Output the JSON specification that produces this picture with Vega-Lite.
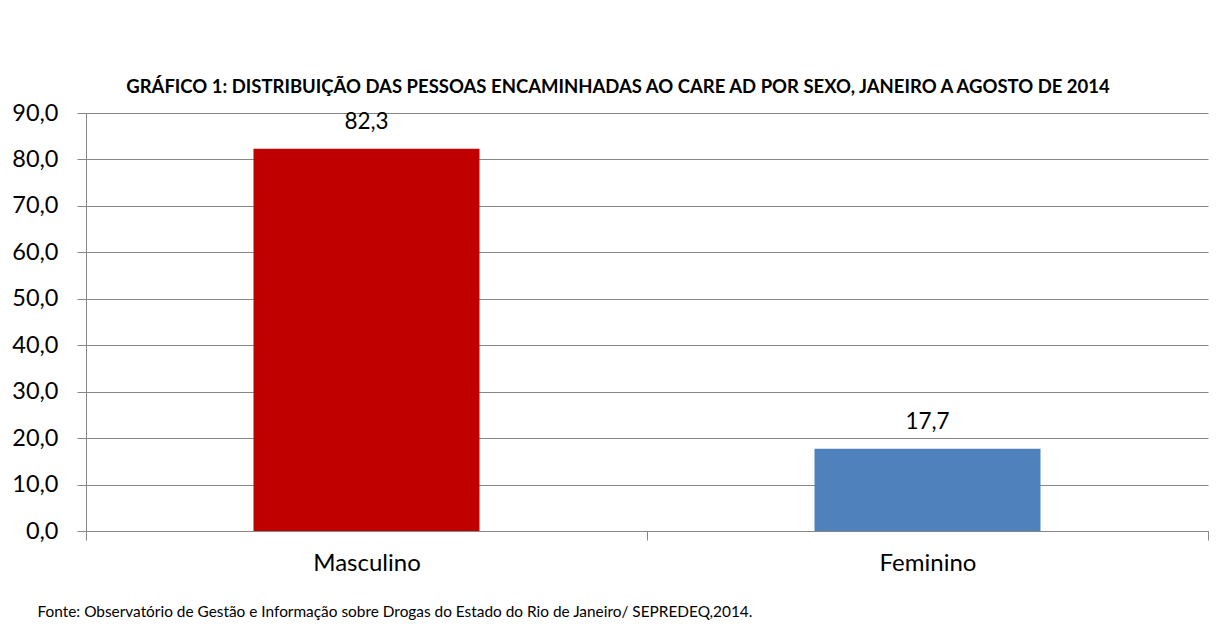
{
  "$schema": "https://vega.github.io/schema/vega-lite/v6.json",
  "width": 1122,
  "height": 418,
  "autosize": {"type": "none"},
  "padding": {"left": 86, "top": 113, "right": 10, "bottom": 104},
  "background": "white",
  "config": {
    "locale": {"number": {"decimal": ",", "thousands": ".", "grouping": [3], "currency": ["R$", ""]}},
    "view": {"stroke": null},
    "font": "Lato"
  },
  "title": {
    "text": "GRÁFICO 1: DISTRIBUIÇÃO DAS PESSOAS ENCAMINHADAS AO CARE AD POR SEXO, JANEIRO A AGOSTO DE 2014",
    "fontSize": 18.5,
    "fontWeight": "bold",
    "font": "Lato",
    "anchor": "middle",
    "dx": -29,
    "offset": 5,
    "color": "black"
  },
  "data": {"values": [
    {"sexo": "Masculino", "pct": 82.3},
    {"sexo": "Feminino", "pct": 17.7}
  ]},
  "encoding": {
    "x": {
      "field": "sexo", "type": "nominal", "sort": null,
      "scale": {"paddingInner": 0, "paddingOuter": 0},
      "axis": {
        "tickBand": "extent",
        "tickSize": 9,
        "tickColor": "#868686",
        "domainColor": "#868686",
        "labelAngle": 0,
        "labelFontSize": 24,
        "labelColor": "black",
        "labelPadding": 11,
        "title": "Fonte: Observatório de Gestão e Informação sobre Drogas do Estado do Rio de Janeiro/ SEPREDEQ,2014.",
        "titleAnchor": "start",
        "titleAlign": "left",
        "titleBaseline": "alphabetic",
        "titleX": -49,
        "titleY": 85,
        "titleFontSize": 15.4,
        "titleFontWeight": "normal",
        "titleColor": "black"
      }
    },
    "y": {
      "field": "pct", "type": "quantitative",
      "scale": {"domain": [0, 90]},
      "axis": {
        "values": [0, 10, 20, 30, 40, 50, 60, 70, 80, 90],
        "format": ".1f",
        "grid": true,
        "gridColor": "#868686",
        "domainColor": "#868686",
        "tickColor": "#868686",
        "tickSize": 9,
        "labelPadding": 19,
        "labelFontSize": 23.5,
        "labelColor": "black",
        "title": null
      }
    }
  },
  "layer": [
    {
      "mark": {"type": "bar", "size": 226},
      "encoding": {
        "color": {
          "field": "sexo", "type": "nominal",
          "scale": {"domain": ["Masculino", "Feminino"], "range": ["#C00000", "#4F81BD"]},
          "legend": null
        }
      }
    },
    {
      "mark": {"type": "text", "dy": -20, "baseline": "alphabetic", "fontSize": 22.5, "font": "Lato", "color": "black"},
      "encoding": {"text": {"field": "pct", "type": "quantitative", "format": ".1f"}}
    }
  ]
}
